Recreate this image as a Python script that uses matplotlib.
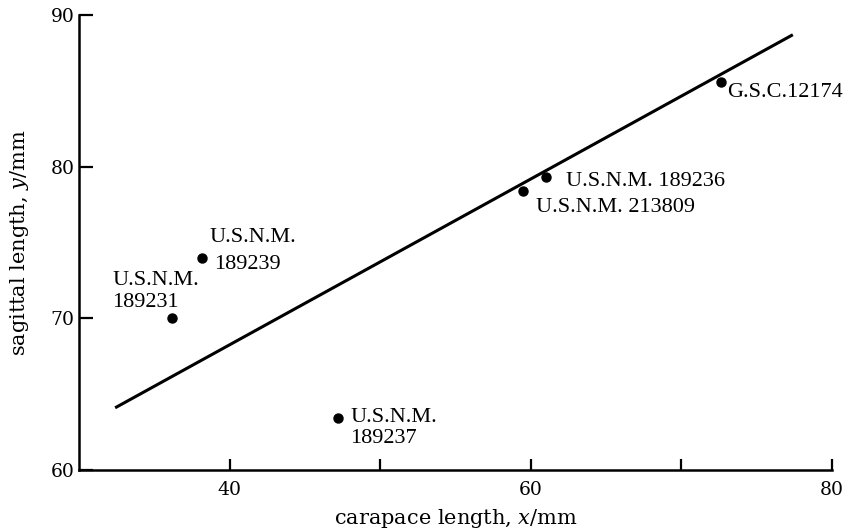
import matplotlib
matplotlib.use("Agg")
import matplotlib.pyplot as plt

plt.rcParams['font.family'] = ['DejaVu Serif']
plt.rcParams['mathtext.fontset'] = 'dejavuserif'

# data
specimens = [["G.S.C.12174"], ["U.S.N.M. 189236"], ["U.S.N.M. 213809"],
             ["U.S.N.M.", "189237"], ["U.S.N.M.", "189239"], ["U.S.N.M.", "189231"]]
carapace = [72.6, 61.0, 59.5, 47.2, 38.2, 36.2]
sagittal = [85.6, 79.3, 78.4, 63.4, 74.0, 70.0]
fit_x = [32.4, 77.4]
fit_y = [64.1, 88.7]
x_ticks = [40, 50, 60, 70, 80]
x_tick_labels = ["40", "", "60", "", "80"]
y_ticks = [60, 70, 80, 90]

# label line offsets (points, baseline) per specimen
offsets = [[(4.5, -11)], [(14.4, -6)], [(9.1, -15.1)],
           [(8.9, -2.9), (8.9, -18)], [(4.8, 11), (8.4, -8.4)],
           [(-43.2, 24), (-43.2, 8.1)]]

fig = plt.figure(figsize=(8.48, 5.32), dpi=100)
ax = fig.add_axes([79/848, 1-470/532, (832-79)/848, (470-15)/532])

ax.plot(fit_x, fit_y, color='black', lw=2.2, solid_capstyle='butt')
ax.plot(carapace, sagittal, 'o', color='black', ms=6.5)

for lines, x, y, offs in zip(specimens, carapace, sagittal, offsets):
    for line, (dx, dy) in zip(lines, offs):
        ax.annotate(line, (x, y), xytext=(dx, dy), textcoords='offset points',
                    ha='left', va='baseline', fontsize=16,
                    family=['Liberation Serif', 'DejaVu Serif'])

ax.set_xlim(30, 80)
ax.set_ylim(60, 90)
ax.set_xticks(x_ticks)
ax.set_xticklabels(x_tick_labels)
ax.set_yticks(y_ticks)
ax.tick_params(direction='in', length=8, width=1.6, labelsize=13.5, pad=8)
ax.tick_params(axis='y', length=10, pad=3)
for s in ['top', 'right']:
    ax.spines[s].set_visible(False)
for s in ['left', 'bottom']:
    ax.spines[s].set_linewidth(1.8)

ax.set_xlabel(r"carapace length, $\mathit{x}$/mm", fontsize=15, labelpad=6)
ax.set_ylabel(r"sagittal length, $\mathit{y}$/mm", fontsize=15, labelpad=14)

fig.savefig("out.png", dpi=100)
